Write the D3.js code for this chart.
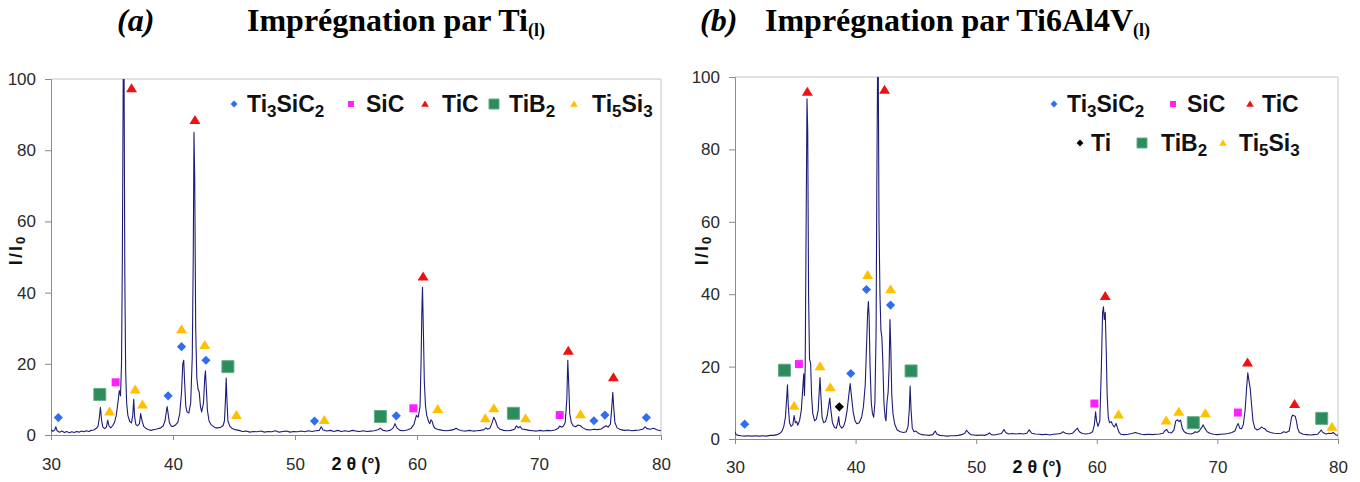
<!DOCTYPE html>
<html><head><meta charset="utf-8">
<script src="https://cdn.jsdelivr.net/npm/d3@7"></script>
<style>body{margin:0;background:#fff;} svg{display:block;}</style>
</head><body><svg id="c" width="1360" height="482"></svg>
<script>
// ---------- DATA ----------
const xTicks = [30, 40, 50, 60, 70, 80];
const yTicks = [0, 20, 40, 60, 80, 100];

// (a) diffractogram, 2θ vs I/I0
const xrdA = [
[30.0,1.5],[30.15,1.0],[30.3,1.4],[30.4,2.3],[30.5,1.2],[30.7,0.8],[30.9,1.1],[31.1,0.7],[31.3,1.0],[31.5,0.6],[31.7,0.9],[31.9,0.7],
[32.1,1.0],[32.3,0.8],[32.5,1.1],[32.7,0.9],[32.9,1.2],[33.1,1.0],[33.3,1.3],[33.5,1.4],[33.7,1.8],[33.85,2.4],[33.95,4.5],[34.05,7.8],
[34.15,4.0],[34.25,2.2],[34.4,1.8],[34.55,2.3],[34.65,4.2],[34.75,2.6],[34.9,2.0],[35.05,2.6],[35.2,3.5],[35.35,5.5],[35.5,9.5],[35.6,12.5],
[35.7,11.0],[35.78,20],[35.85,50],[35.92,101],[35.99,101],[36.05,45],[36.12,18],[36.2,9],[36.3,5.5],[36.45,3.8],[36.6,3.4],[36.7,5.5],
[36.78,10],[36.86,5],[36.95,3.0],[37.1,2.6],[37.25,3.2],[37.35,6],[37.45,4.2],[37.6,2.4],[37.8,1.8],[38.0,1.5],[38.2,1.3],[38.4,1.5],
[38.6,1.6],[38.8,1.8],[39.0,2.0],[39.2,2.6],[39.35,4.0],[39.45,6.5],[39.52,8.0],[39.6,6.0],[39.7,3.5],[39.85,2.5],[40.0,2.4],[40.2,2.8],
[40.4,3.6],[40.55,6],[40.7,12],[40.8,20],[40.88,21],[40.95,15],[41.05,8],[41.15,6.5],[41.3,6.2],[41.45,9],[41.58,22],[41.66,50],
[41.72,85],[41.78,72],[41.86,30],[41.95,16],[42.05,13],[42.15,12],[42.25,8],[42.35,6.5],[42.5,9],[42.6,16],[42.66,18],[42.72,14],
[42.82,7],[42.95,4],[43.1,3],[43.3,2.4],[43.5,2.0],[43.7,2.0],[43.9,2.2],[44.1,2.6],[44.22,4],[44.3,10],[44.36,16],[44.42,10],
[44.5,4],[44.65,2.5],[44.85,1.8],[45.1,1.5],[45.4,1.3],[45.7,1.0],[46.0,1.1],[46.3,0.8],[46.6,1.0],[46.9,0.9],[47.2,1.1],[47.5,0.8],
[47.8,1.0],[48.1,0.9],[48.4,1.2],[48.7,0.8],[49.0,1.0],[49.3,1.1],[49.6,0.8],[49.9,1.0],[50.2,0.9],[50.5,1.1],[50.8,0.9],[51.1,1.2],
[51.4,1.0],[51.7,1.2],[52.0,1.3],[52.15,2.3],[52.3,1.4],[52.6,1.1],[52.9,1.3],[53.2,1.0],[53.5,1.3],[53.8,1.0],[54.1,1.2],[54.4,1.0],
[54.7,1.3],[55.0,1.1],[55.3,1.0],[55.6,1.2],[55.9,1.0],[56.2,1.1],[56.5,1.2],[56.8,1.5],[57.0,1.9],[57.2,1.3],[57.5,1.1],[57.8,1.3],
[58.05,2.0],[58.2,3.2],[58.35,2.0],[58.6,1.3],[58.9,1.2],[59.2,1.4],[59.5,1.8],[59.75,3],[59.95,5.5],[60.1,5],[60.25,8],[60.33,20],
[60.4,35],[60.45,41.5],[60.52,30],[60.6,15],[60.7,8],[60.8,5.5],[60.95,3.8],[61.05,3.2],[61.15,4.3],[61.25,3.8],[61.35,2.5],[61.5,1.8],
[61.8,1.5],[62.1,1.3],[62.4,1.2],[62.7,1.3],[63.0,1.5],[63.2,1.9],[63.4,1.5],[63.7,1.2],[64.0,1.1],[64.3,1.3],[64.6,1.1],[64.9,1.2],
[65.2,1.3],[65.5,1.5],[65.65,2.0],[65.8,1.6],[66.0,2.0],[66.15,3.4],[66.3,5.0],[66.45,3.8],[66.6,2.3],[66.8,1.6],[67.1,1.3],[67.4,1.2],
[67.7,1.3],[68.0,1.6],[68.15,2.6],[68.3,2.0],[68.45,2.4],[68.6,1.7],[68.9,1.5],[69.2,1.3],[69.5,1.2],[69.8,1.1],[70.1,1.3],[70.4,1.1],
[70.7,1.3],[71.0,1.2],[71.3,1.4],[71.55,1.8],[71.7,2.5],[71.85,2.2],[72.0,2.5],[72.15,3.5],[72.28,10],[72.36,21],[72.44,14],[72.52,6],
[72.65,3.5],[72.8,2.6],[73.0,2.3],[73.2,2.8],[73.4,2.6],[73.6,2.0],[73.9,1.5],[74.2,1.4],[74.5,1.6],[74.8,1.5],[75.1,1.7],[75.35,2.3],
[75.5,2.6],[75.65,2.2],[75.85,3],[75.95,7],[76.05,12],[76.12,8],[76.22,3.5],[76.4,2.0],[76.7,1.5],[77.0,1.3],[77.3,1.4],[77.6,1.2],
[77.9,1.3],[78.2,1.4],[78.5,1.6],[78.7,2.3],[78.85,1.8],[79.1,1.6],[79.4,1.9],[79.7,1.4],[80.0,1.2]
];

// (b) diffractogram
const xrdB = [
[30.0,2.0],[30.1,1.2],[30.3,1.0],[30.5,0.9],[30.8,0.8],[31.1,0.9],[31.4,0.8],[31.7,0.9],[32.0,0.8],[32.3,0.9],[32.6,0.8],[32.9,1.0],
[33.2,1.0],[33.5,1.2],[33.7,1.5],[33.9,2.2],[34.05,3.5],[34.18,6],[34.28,11],[34.35,15],[34.42,9],[34.52,4.5],[34.65,3.5],[34.8,4.0],
[34.9,6.5],[35.0,4.5],[35.12,4.8],[35.2,3.8],[35.35,5],[35.5,8],[35.62,14],[35.7,18],[35.76,12],[35.82,20],[35.9,60],[35.97,94],
[36.03,85],[36.1,40],[36.18,22],[36.27,21],[36.35,12],[36.45,7],[36.6,5],[36.75,5.5],[36.9,8],[36.98,13],[37.05,17],[37.12,12],
[37.22,6],[37.35,4.5],[37.5,4.8],[37.65,6.5],[37.78,9.5],[37.86,11.3],[37.95,8],[38.08,4.5],[38.25,3.2],[38.4,3.0],[38.52,4.5],[38.6,6.2],
[38.68,3.8],[38.85,3.0],[39.0,3.5],[39.15,5],[39.3,8],[39.45,12.5],[39.55,15.3],[39.65,12],[39.8,7.5],[39.95,5],[40.1,4.2],[40.3,4.5],
[40.5,6],[40.65,9],[40.8,15],[40.92,27],[41.0,35],[41.06,38],[41.12,34],[41.2,20],[41.3,10],[41.4,7],[41.5,6],[41.6,10],
[41.7,30],[41.76,70],[41.82,101],[41.88,101],[41.94,60],[42.02,40],[42.1,30],[42.18,28],[42.25,22],[42.35,10],[42.45,6],[42.52,5],
[42.6,10],[42.7,13],[42.78,20],[42.85,33],[42.92,25],[43.0,12],[43.1,7],[43.25,4],[43.45,2.5],[43.7,2.0],[44.0,1.8],[44.2,2.0],
[44.35,3.5],[44.45,8],[44.52,14.6],[44.6,8],[44.7,3],[44.85,2.0],[45.0,2.2],[45.2,1.6],[45.5,1.2],[45.8,1.1],[46.1,1.0],[46.4,1.2],
[46.6,2.2],[46.75,1.3],[47.0,1.0],[47.3,0.9],[47.6,0.8],[47.9,0.9],[48.2,0.9],[48.5,1.0],[48.8,1.2],[49.05,1.6],[49.2,2.4],[49.35,1.8],
[49.55,1.2],[49.8,1.1],[50.1,1.0],[50.4,1.1],[50.7,1.0],[50.95,1.3],[51.1,1.7],[51.25,1.2],[51.5,1.1],[51.8,1.3],[52.1,1.5],[52.3,2.6],
[52.45,1.8],[52.7,1.4],[53.0,1.5],[53.3,1.4],[53.6,1.5],[53.9,1.4],[54.2,1.6],[54.4,2.5],[54.6,1.6],[54.9,1.4],[55.2,1.3],[55.5,1.2],
[55.8,1.3],[56.1,1.1],[56.4,1.3],[56.7,1.4],[57.0,1.5],[57.2,2.0],[57.4,1.6],[57.7,1.4],[58.0,1.6],[58.2,2.3],[58.4,3.0],[58.55,2.0],
[58.8,1.5],[59.1,1.4],[59.4,1.5],[59.65,2.0],[59.8,4],[59.9,7.5],[59.98,5],[60.1,3.5],[60.25,5],[60.38,20],[60.48,35],[60.55,36.5],
[60.62,33],[60.7,35],[60.78,25],[60.86,12],[60.95,6],[61.05,4.5],[61.2,4.8],[61.3,4.0],[61.45,3.3],[61.6,4.3],[61.7,3.2],[61.85,1.8],
[62.0,1.3],[62.3,1.2],[62.6,1.3],[62.9,1.5],[63.2,1.8],[63.45,1.5],[63.7,1.3],[64.0,1.2],[64.3,1.3],[64.6,1.2],[64.9,1.3],[65.2,1.4],
[65.5,1.6],[65.65,2.3],[65.8,2.6],[65.95,1.8],[66.2,1.7],[66.4,2.5],[66.55,5.0],[66.7,5.3],[66.82,4.8],[66.95,5.2],[67.08,3],[67.25,2.0],
[67.5,1.5],[67.8,1.4],[68.0,1.6],[68.15,2.0],[68.3,1.8],[68.5,2.2],[68.7,3.2],[68.82,3.9],[68.95,3.0],[69.15,2.0],[69.4,1.5],[69.7,1.3],
[70.0,1.2],[70.3,1.3],[70.6,1.4],[70.9,1.5],[71.2,1.8],[71.45,2.2],[71.6,3.5],[71.72,4.3],[71.85,3.0],[72.0,2.8],[72.15,4],[72.3,8],
[72.42,14],[72.52,18.3],[72.62,16],[72.72,14],[72.82,10],[72.95,5],[73.1,3.0],[73.3,2.5],[73.5,2.8],[73.65,3.3],[73.8,3.0],[73.95,2.8],
[74.1,2.2],[74.4,1.8],[74.7,1.6],[75.0,1.5],[75.3,1.6],[75.5,2.0],[75.7,1.8],[75.95,2.2],[76.05,4],[76.15,6],[76.25,6.6],[76.35,6.4],
[76.45,6.3],[76.55,5],[76.65,3],[76.8,1.8],[77.1,1.3],[77.4,1.2],[77.7,1.1],[78.0,1.2],[78.3,1.3],[78.45,1.8],[78.6,2.5],[78.75,1.8],
[79.0,1.4],[79.25,1.6],[79.45,1.5],[79.6,1.8],[79.8,1.2],[80.0,1.0]
];

// phase markers, panel (a)
const ti3sic2A = [[30.6,4.9],[39.6,11],[40.7,24.8],[42.7,21],[51.6,3.9],[58.3,5.4],[74.5,4.0],[75.4,5.6],[78.8,4.9]];
const sicA     = [[35.3,14.8],[59.7,7.5],[71.7,5.6]];
const ticA     = [[36.6,97.4],[41.8,88.5],[60.5,44.5],[72.4,23.7],[76.1,16.2]];
const tib2A    = [[34.0,11.4],[44.5,19.2],[57.0,5.2],[67.9,6.1]];
const ti5si3A  = [[34.8,6.6],[36.9,12.8],[37.5,8.6],[40.7,29.7],[42.6,25.3],[45.2,5.6],[52.4,4.2],[61.7,7.3],[65.6,4.7],[66.3,7.5],[68.9,4.7],[73.4,5.8]];

// phase markers, panel (b)
const ti3sic2B = [[30.8,4.1],[39.6,18.1],[40.9,41.3],[42.9,37.0]];
const sicB     = [[35.3,20.7],[59.8,9.8],[71.7,7.3]];
const ticB     = [[36.0,95.9],[42.4,96.5],[60.7,39.5],[72.5,21.1],[76.4,9.7]];
const tiB      = [[38.65,8.9]];
const tib2B    = [[34.1,19.0],[44.6,18.8],[68.0,4.5],[78.65,5.7]];
const ti5si3B  = [[34.9,9.2],[37.05,20.1],[37.9,14.3],[41.0,45.3],[42.9,41.4],[61.8,6.8],[65.75,5.1],[66.8,7.5],[69.0,7.1],[79.5,3.4]];

const legendA = ["Ti3SiC2", "SiC", "TiC", "TiB2", "Ti5Si3"];
const legendB1 = ["Ti3SiC2", "SiC", "TiC"];
const legendB2 = ["Ti", "TiB2", "Ti5Si3"];

const titleTagA = "(a)", titleMainA = "Imprégnation par Ti", titleSubA = "(l)";
const titleTagB = "(b)", titleMainB = "Imprégnation par Ti6Al4V", titleSubB = "(l)";
const xAxisTitle = "2 θ (°)";
const yAxisTitle = "I/I", yAxisSub = "0";

// ---------- STYLE ----------
const phaseStyle = {
  "Ti3SiC2": {shape: "diamond", color: "#2f6ef2", size: 8, lsize: 6},
  "SiC":     {shape: "square",  color: "#ff1fff", size: 8, lsize: 6},
  "TiC":     {shape: "triangle",color: "#ee1111", size: 10, lsize: 7},
  "Ti":      {shape: "diamond", color: "#000000", size: 8, lsize: 6},
  "TiB2":    {shape: "square",  color: "#2e8c5c", size: 12, lsize: 10},
  "Ti5Si3":  {shape: "triangle",color: "#ffc000", size: 10, lsize: 7}
};
const svg = d3.select("#c");
const FONT = "'Liberation Sans', Arial, sans-serif";
const SERIF = "'Liberation Serif', 'Times New Roman', serif";

function shapePath(shape, s) {
  const h = s / 2;
  if (shape === "diamond") return `M0,${-h*1.15}L${h*1.15},0L0,${h*1.15}L${-h*1.15},0Z`;
  if (shape === "square") return `M${-h},${-h}H${h}V${h}H${-h}Z`;
  return `M0,${-h}L${h*1.1},${h*0.8}L${-h*1.1},${h*0.8}Z`;
}

function subText(sel, label, size, subSize) {
  const parts = label.split(/(\d+)/).filter(p => p.length);
  parts.forEach(p => {
    const isSub = /^\d+$/.test(p);
    sel.append("tspan").text(p)
      .attr("font-size", isSub ? subSize : size)
      .attr("dy", 0)
      .attr("baseline-shift", isSub ? "-28%" : null);
  });
}

function drawPanel(cfg) {
  const x = d3.scaleLinear().domain([30, 80]).range([cfg.x0, cfg.x1]);
  const y = d3.scaleLinear().domain([0, 100]).range([cfg.yb, cfg.yt]);
  const g = svg.append("g");
  const clipId = "clip" + cfg.id;
  svg.append("clipPath").attr("id", clipId).append("rect")
    .attr("x", cfg.x0).attr("y", cfg.yt).attr("width", cfg.x1 - cfg.x0).attr("height", cfg.yb - cfg.yt);

  // border top/right
  g.append("path").attr("d", `M${cfg.x0},${cfg.yt}H${cfg.x1}V${cfg.yb}`)
    .attr("fill", "none").attr("stroke", "#c4c4c4").attr("stroke-width", 1);

  // axes
  const xa = g.append("g").attr("transform", `translate(0,${cfg.yb})`)
    .call(d3.axisBottom(x).tickValues(xTicks).tickSize(5).tickPadding(cfg.xpad).tickFormat(d3.format("d")));
  const ya = g.append("g").attr("transform", `translate(${cfg.x0},0)`)
    .call(d3.axisLeft(y).tickValues(yTicks).tickSize(6).tickPadding(9).tickFormat(d3.format("d")));
  [xa, ya].forEach(a => {
    a.select(".domain").attr("stroke", "#8a8a8a");
    a.selectAll(".tick line").attr("stroke", "#8a8a8a");
    a.selectAll(".tick text").attr("font-family", FONT).attr("font-size", 17).attr("fill", "#2a2a2a");
  });

  // curve
  const line = d3.line().x(d => x(d[0])).y(d => y(d[1]));
  g.append("path").datum(cfg.data).attr("d", line).attr("clip-path", `url(#${clipId})`)
    .attr("fill", "none").attr("stroke", "#1d1d78").attr("stroke-width", 1.1).attr("stroke-linejoin", "round");

  // markers
  cfg.markers.forEach(([name, pts]) => {
    const st = phaseStyle[name];
    g.selectAll(null).data(pts).enter().append("path")
      .attr("transform", d => `translate(${x(d[0])},${y(d[1])})`)
      .attr("d", shapePath(st.shape, st.size)).attr("fill", st.color)
      .attr("stroke", name === "TiB2" ? "#5fae86" : "none").attr("stroke-width", 1);
  });

  // legend
  cfg.legend.forEach(row => {
    row.names.forEach((name, i) => {
      const st = phaseStyle[name];
      g.append("path").attr("transform", `translate(${row.mx[i]},${row.my})`)
        .attr("d", shapePath(st.shape, st.lsize)).attr("fill", st.color)
        .attr("stroke", name === "TiB2" ? "#5fae86" : "none");
      const t = g.append("text").attr("x", row.tx[i]).attr("y", row.ty)
        .attr("font-family", FONT).attr("font-weight", "bold").attr("fill", "#111");
      subText(t, name, 23, 17);
    });
  });

  // axis titles
  const xt = g.append("text").attr("x", cfg.xtx).attr("y", cfg.xty).attr("text-anchor", "middle")
    .attr("font-family", FONT).attr("font-weight", "bold").attr("font-size", 18).attr("fill", "#111");
  xt.text(xAxisTitle);
  const yt = g.append("text").attr("transform", `translate(${cfg.ytx},${cfg.yty}) rotate(-90)`)
    .attr("text-anchor", "middle").attr("font-family", FONT).attr("font-weight", "bold")
    .attr("font-size", 18).attr("fill", "#111").attr("letter-spacing", 2);
  yt.append("tspan").text(yAxisTitle);
  yt.append("tspan").text(yAxisSub).attr("font-size", 13).attr("baseline-shift", "-25%");

  // title
  svg.append("text").attr("x", cfg.tagX).attr("y", 31).attr("font-family", SERIF)
    .attr("font-weight", "bold").attr("font-style", "italic").attr("font-size", 32).attr("fill", "#000").text(cfg.tag);
  const tt = svg.append("text").attr("x", cfg.titleX).attr("y", 31).attr("font-family", SERIF)
    .attr("font-weight", "bold").attr("font-size", 32).attr("fill", "#000");
  tt.append("tspan").text(cfg.title);
  tt.append("tspan").text(cfg.titleSub).attr("font-size", 18).attr("baseline-shift", "-30%");
}

drawPanel({
  id: "A", x0: 51, x1: 661, yt: 79, yb: 435, xpad: 18, data: xrdA,
  markers: [["Ti3SiC2", ti3sic2A], ["SiC", sicA], ["TiC", ticA], ["TiB2", tib2A], ["Ti5Si3", ti5si3A]],
  legend: [{names: legendA, mx: [234, 351, 425, 494, 574], tx: [247, 366, 442, 509, 592], my: 104, ty: 112}],
  xtx: 356, xty: 470, ytx: 22, yty: 250,
  tag: titleTagA, tagX: 117, title: titleMainA, titleSub: titleSubA, titleX: 247
});
drawPanel({
  id: "B", x0: 735, x1: 1338, yt: 77, yb: 439, xpad: 17, data: xrdB,
  markers: [["Ti3SiC2", ti3sic2B], ["SiC", sicB], ["TiC", ticB], ["Ti", tiB], ["TiB2", tib2B], ["Ti5Si3", ti5si3B]],
  legend: [{names: legendB1, mx: [1054, 1173, 1250], tx: [1067, 1187, 1262], my: 104, ty: 112},
           {names: legendB2, mx: [1080, 1142, 1223], tx: [1091, 1161, 1239], my: 143, ty: 151}],
  xtx: 1037, xty: 473, ytx: 708, yty: 250,
  tag: titleTagB, tagX: 700, title: titleMainB, titleSub: titleSubB, titleX: 765
});
</script></body></html>
